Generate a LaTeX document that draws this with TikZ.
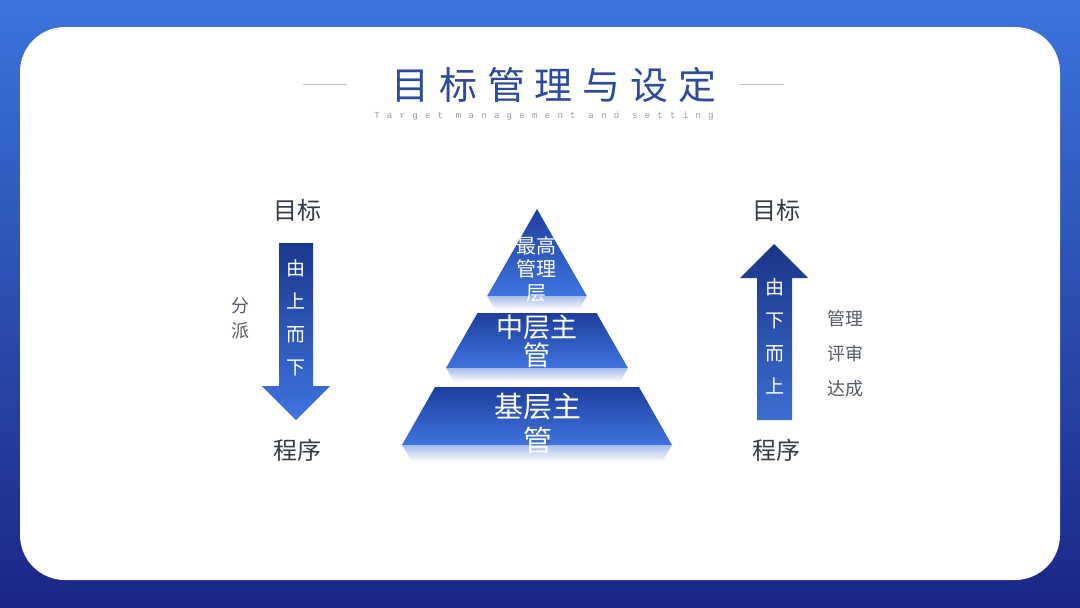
\documentclass[tikz,border=0pt]{standalone}
\usepackage{fontspec}
\newfontfamily\cjk{Noto Sans CJK SC}
\newfontfamily\cjktitle[LetterSpace=26]{Noto Sans CJK SC}
\newfontfamily\subfont[LetterSpace=78]{Liberation Mono}
\definecolor{bgtop}{HTML}{3B74DC}
\definecolor{bgbot}{HTML}{1B2686}
\definecolor{tiertop}{HTML}{1E3E9E}
\definecolor{tierbot}{HTML}{3F74DE}
\definecolor{refl}{HTML}{A6BCEA}
\definecolor{titlec}{HTML}{2C4B9C}
\definecolor{labc}{HTML}{333A48}
\definecolor{sidec}{HTML}{555A66}
\definecolor{subc}{HTML}{9A9EA8}
\definecolor{linec}{HTML}{B8BCC6}
\tikzset{
  tier/.style={top color=tiertop, bottom color=tierbot},
  reflect/.style={top color=refl, bottom color=white},
  tiertext/.style 2 args={text=white, font=\cjk\fontsize{#1}{#2}\selectfont, align=center, inner sep=0pt},
  endlabel/.style={text=labc, font=\cjk\fontsize{24}{28}\selectfont, inner sep=0pt},
  sidelabel/.style={text=sidec, font=\cjk\fontsize{18}{#1}\selectfont, align=center, inner sep=0pt},
  arrowtext/.style={text=white, font=\cjk\fontsize{19}{33}\selectfont, align=center, inner sep=0pt},
}
\begin{document}
\begin{tikzpicture}[x=1pt,y=-1pt]
\useasboundingbox (0,0) rectangle (1080,608);
% background
\shade[top color=bgtop, bottom color=bgbot] (0,0) rectangle (1080,608);
\fill[white, rounded corners=45pt] (20,27) rectangle (1060,580);
% title
\node[text=titlec, font=\cjktitle\fontsize{38}{40}\selectfont, inner sep=0pt] (title) at (554,85) {目标管理与设定};
\node[text=subc, font=\subfont\fontsize{9.2}{10}\selectfont, inner sep=0pt] (subtitle) at (544,116) {Target management and setting};
\draw[linec, line width=0.8pt] (303,84) -- (347,84);
\draw[linec, line width=0.8pt] (740,84) -- (784,84);
% pyramid
\shade[tier] (537,209) -- (586.8,296) -- (487.2,296) -- cycle;
\shade[reflect] (487.2,296) -- (586.8,296) -- (579,310) -- (495,310) -- cycle;
\shade[tier] (477.5,313) -- (596.5,313) -- (628,368) -- (446,368) -- cycle;
\shade[reflect] (446,368) -- (628,368) -- (620,382) -- (454,382) -- cycle;
\shade[tier] (435,387) -- (639,387) -- (672,445) -- (402,445) -- cycle;
\shade[reflect] (402,445) -- (672,445) -- (662,462) -- (412,462) -- cycle;
\node[tiertext={20}{23.5}] (top) at (536,269) {最高\\管理\\层};
\node[tiertext={27}{28}] (mid) at (537,341) {中层主\\管};
\node[tiertext={29}{34}] (base) at (538,423) {基层主\\管};
% left arrow
\shade[top color=tiertop!90!black, bottom color=tierbot] (279,243) -- (313,243) -- (313,386) -- (330,386) -- (296,420) -- (262,386) -- (279,386) -- cycle;
\node[arrowtext] (ltext) at (296,318) {由\\上\\而\\下};
\node[endlabel] (ltop) at (297,210) {目标};
\node[endlabel] (lbot) at (297,450) {程序};
\node[sidelabel=25] (lside) at (240,318) {分\\派};
% right arrow
\shade[top color=tiertop!85!black, bottom color=tierbot!95!black] (774,244) -- (808,278) -- (792,278) -- (792,420) -- (757,420) -- (757,278) -- (740,278) -- cycle;
\node[arrowtext] (rtext) at (775,336) {由\\下\\而\\上};
\node[endlabel] (rtop) at (776,210) {目标};
\node[endlabel] (rbot) at (776,450) {程序};
\node[sidelabel=35] (rside) at (845,354) {管理\\评审\\达成};
\end{tikzpicture}
\end{document}
